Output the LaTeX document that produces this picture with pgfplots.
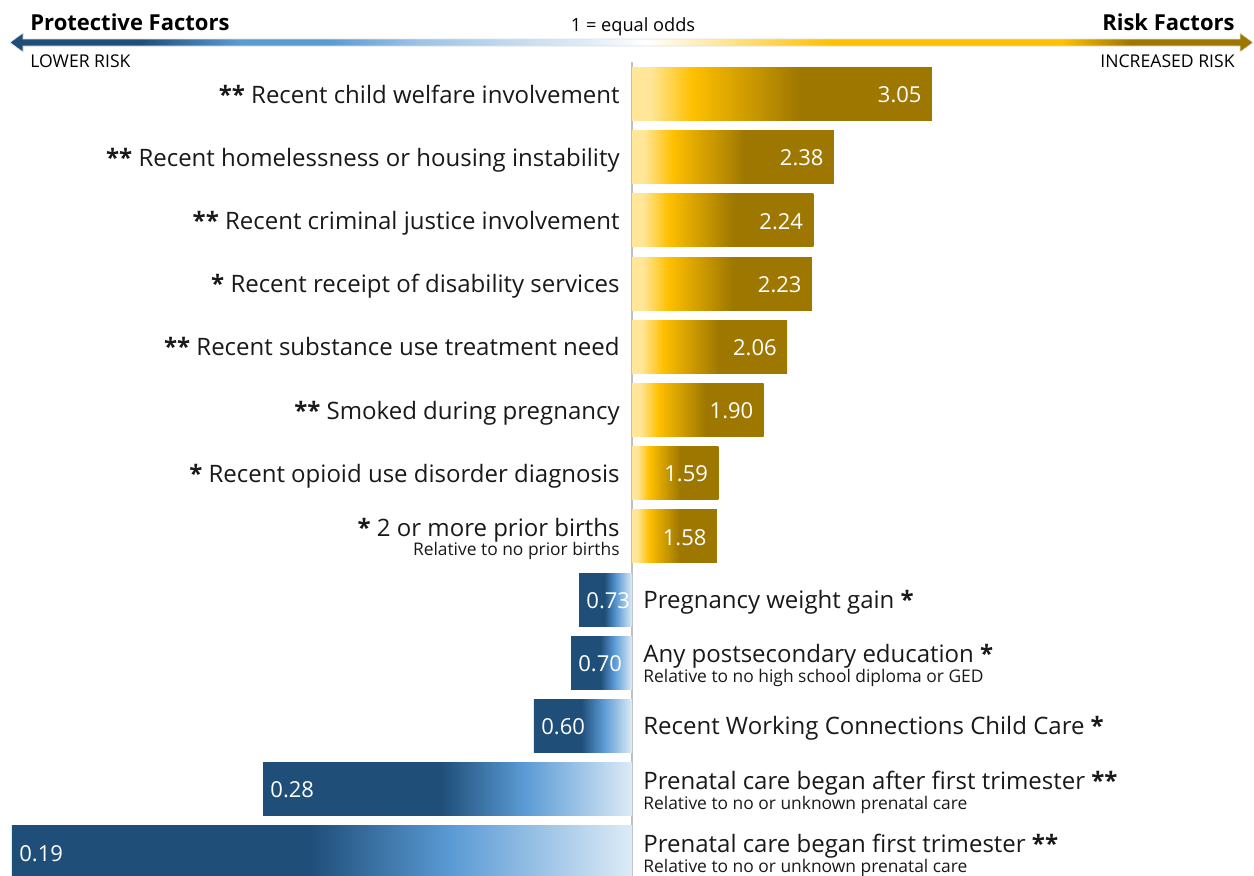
\documentclass[border=0pt]{standalone}
\usepackage{pgfplots}
\pgfplotsset{compat=1.18}
\usepackage{fontspec}
\setmainfont{Open Sans}

\definecolor{navy}{HTML}{1F4E79}
\definecolor{mblue}{HTML}{5B9BD5}
\definecolor{lblue}{HTML}{9DC3E6}
\definecolor{pblue}{HTML}{DDEBF7}
\definecolor{gpale}{HTML}{FFE699}
\definecolor{ggold}{HTML}{FFC000}
\definecolor{gdark}{HTML}{9E7700}
\definecolor{vline}{HTML}{BFBFBF}

\pgfdeclarehorizontalshading{goldbar}{100bp}{color(0bp)=(gpale); color(25bp)=(gpale); color(28bp)=(gpale); color(35bp)=(ggold); color(53bp)=(gdark); color(100bp)=(gdark)}
\pgfdeclarehorizontalshading{bluebar}{100bp}{color(0bp)=(navy); color(49bp)=(navy); color(60.5bp)=(mblue); color(75bp)=(pblue); color(100bp)=(pblue)}
\pgfdeclarehorizontalshading{arrowshade}{100bp}{color(0bp)=(navy); color(30.2bp)=(navy); color(34.3bp)=(mblue); color(37.9bp)=(mblue); color(41.5bp)=(lblue); color(48bp)=(pblue); color(50.6bp)=(white); color(53.6bp)=(gpale); color(58bp)=(ggold); color(67.3bp)=(ggold); color(70.1bp)=(gdark); color(100bp)=(gdark)}

\pgfplotsset{
  riskbar/.style={xbar, bar shift=0pt, bar width=26.5pt, draw=none, shading=goldbar,
    point meta=explicit symbolic, nodes near coords,
    every node near coord/.append style={anchor=base east, inner sep=0pt, xshift=-5pt, yshift=-4.3pt, text=white, font=\fontsize{11}{12}\selectfont}},
  protbar/.style={xbar, bar shift=0pt, bar width=26.5pt, draw=none, shading=bluebar,
    point meta=explicit symbolic, nodes near coords,
    every node near coord/.append style={anchor=base west, inner sep=0pt, xshift=3.5pt, yshift=-4.3pt, text=white, font=\fontsize{11}{12}\selectfont}},
}

\newcommand{\labfont}{\fontsize{12}{14}\selectfont}
\newcommand{\subfont}{\fontsize{8.7}{10}\selectfont}

\begin{document}
\begin{tikzpicture}
\begin{axis}[at={(0,0)}, anchor=north west, scale only axis,
  width=627pt, height=437.5pt,
  xmin=-4.3199, xmax=4.2515, ymin=-1.4873, ymax=12.358,
  y dir=reverse, hide axis, clip=false]
\draw[vline, line width=1pt] (axis cs:0,-0.506) -- (axis cs:0,12.4);
% risk factors: bar length = odds ratio - 1, label = odds ratio
\addplot[riskbar] coordinates {(2.05,0) [3.05]};
\addplot[riskbar] coordinates {(1.38,1) [2.38]};
\addplot[riskbar] coordinates {(1.24,2) [2.24]};
\addplot[riskbar] coordinates {(1.23,3) [2.23]};
\addplot[riskbar] coordinates {(1.06,4) [2.06]};
\addplot[riskbar] coordinates {(0.90,5) [1.90]};
\addplot[riskbar] coordinates {(0.59,6) [1.59]};
\addplot[riskbar] coordinates {(0.58,7) [1.58]};
% protective factors: bar length = -(1/odds ratio - 1), label = odds ratio
\addplot[protbar] coordinates {(-0.362,8) [0.73]};
\addplot[protbar] coordinates {(-0.417,9) [0.70]};
\addplot[protbar] coordinates {(-0.670,10) [0.60]};
\addplot[protbar] coordinates {(-2.522,11) [0.28]};
\addplot[protbar] coordinates {(-4.238,12) [0.19]};
% category labels (left side)
\begin{scope}[every node/.style={anchor=base east, font=\labfont, text=black!90, inner sep=0pt}]
\node[yshift=-4.5pt] at (axis cs:-0.082,0) {\textbf{**} Recent child welfare involvement};
\node[yshift=-4.5pt] at (axis cs:-0.082,1) {\textbf{**} Recent homelessness or housing instability};
\node[yshift=-4.5pt] at (axis cs:-0.082,2) {\textbf{**} Recent criminal justice involvement};
\node[yshift=-4.5pt] at (axis cs:-0.082,3) {\textbf{*} Recent receipt of disability services};
\node[yshift=-4.5pt] at (axis cs:-0.082,4) {\textbf{**} Recent substance use treatment need};
\node[yshift=-4.5pt] at (axis cs:-0.082,5) {\textbf{**} Smoked during pregnancy};
\node[yshift=-4.5pt] at (axis cs:-0.082,6) {\textbf{*} Recent opioid use disorder diagnosis};
\node[yshift=0pt] at (axis cs:-0.082,7) {\textbf{*} 2 or more prior births};
\node[yshift=-9.5pt, font=\subfont] at (axis cs:-0.082,7) {Relative to no prior births};
\end{scope}
% category labels (right side)
\begin{scope}[every node/.style={anchor=base west, font=\labfont, text=black!90, inner sep=0pt}]
\node[yshift=-4.3pt] at (axis cs:0.075,8) {Pregnancy weight gain \textbf{*}};
\node[yshift=0pt] at (axis cs:0.075,9) {Any postsecondary education \textbf{*}};
\node[yshift=-10pt, font=\subfont] at (axis cs:0.075,9) {Relative to no high school diploma or GED};
\node[yshift=-4.3pt] at (axis cs:0.075,10) {Recent Working Connections Child Care \textbf{*}};
\node[yshift=0pt] at (axis cs:0.075,11) {Prenatal care began after first trimester \textbf{**}};
\node[yshift=-10pt, font=\subfont] at (axis cs:0.075,11) {Relative to no or unknown prenatal care};
\node[yshift=0pt] at (axis cs:0.075,12) {Prenatal care began first trimester \textbf{**}};
\node[yshift=-10pt, font=\subfont] at (axis cs:0.075,12) {Relative to no or unknown prenatal care};
\end{scope}
\end{axis}
% header (pixel coordinates)
\begin{scope}[x=0.5pt, y=-0.5pt]
\shadedraw[shading=arrowshade, draw=black!12, line width=0.3pt]
  (10,42.5) -- (23,33) -- (23,39) -- (1240,39) -- (1240,33) -- (1253,42.5)
  -- (1240,52) -- (1240,46) -- (23,46) -- (23,52) -- cycle;
\node[anchor=base west, inner sep=0pt, font=\bfseries\fontsize{11}{13}\selectfont] at (30,30) {Protective Factors};
\node[anchor=base east, inner sep=0pt, font=\bfseries\fontsize{11}{13}\selectfont] at (1235,30) {Risk Factors};
\node[anchor=base, inner sep=0pt, font=\fontsize{9.1}{10}\selectfont] at (633,31) {1 = equal odds};
\node[anchor=base west, inner sep=0pt, font=\fontsize{8.8}{10}\selectfont] at (30,67) {LOWER RISK};
\node[anchor=base east, inner sep=0pt, font=\fontsize{8.8}{10}\selectfont] at (1235,67) {INCREASED RISK};
\end{scope}
\pgfresetboundingbox
\path (0,0) rectangle (627pt,-437.5pt);
\end{tikzpicture}
\end{document}
